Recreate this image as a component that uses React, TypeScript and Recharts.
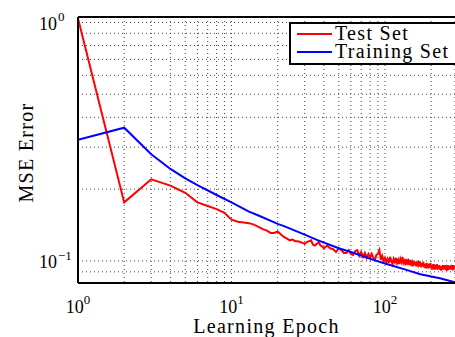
import React from 'react'
import { LineChart, Line, XAxis, YAxis, CartesianGrid, ReferenceLine } from 'recharts'

// training curve (smooth)
const trainEpoch = [1, 2, 3, 4, 5, 6, 8, 10, 13, 15, 20, 22, 30, 36, 50, 60, 84, 100, 138, 170, 228, 286]
const trainMse = [
  0.322, 0.362, 0.28, 0.243, 0.222, 0.208, 0.189, 0.176, 0.161, 0.155, 0.143, 0.14, 0.129, 0.1225,
  0.113, 0.109, 0.101, 0.0975, 0.0917, 0.088, 0.0846, 0.0814,
]

// test curve (noisy after ~30 epochs)
const testEpoch = [
  1, 2, 3, 4, 5, 6, 7, 8, 9, 10, 11, 12, 13, 14, 15, 16, 17, 18, 19, 20, 21, 22, 23, 24, 25, 26, 27,
  28, 29, 30, 31, 32, 33, 34, 35, 36, 37, 38, 39, 40, 42, 44, 46, 48, 50, 52, 54, 56, 58, 60, 62, 64,
  66, 68, 70, 72, 74, 76, 78, 80, 82, 84, 86, 88, 90, 92, 94, 96, 98, 100, 102, 104, 106, 108, 110,
  112, 114, 116, 118, 120, 122, 124, 126, 128, 130, 132, 134, 136, 138, 140, 142, 144, 146, 148, 150,
  152, 154, 156, 158, 160, 162, 164, 166, 168, 170, 172, 174, 176, 178, 180, 182, 184, 186, 188, 190,
  192, 194, 196, 198, 200, 202, 204, 206, 208, 210, 212, 214, 216, 218, 220, 222, 224, 226, 228, 230,
  232, 234, 236, 238, 240, 242, 244, 246, 248, 250, 252, 254, 256, 258, 260, 262, 264, 266, 268, 270,
  272, 274, 276, 278, 280, 282, 284, 286,
]
const testMse = [
  1.04, 0.176, 0.22, 0.207, 0.193, 0.176, 0.17, 0.165, 0.159, 0.149, 0.146, 0.145, 0.144, 0.142,
  0.139, 0.136, 0.134, 0.131, 0.131, 0.133, 0.129, 0.126, 0.124, 0.122, 0.123, 0.121, 0.121, 0.12,
  0.119, 0.118, 0.12, 0.121, 0.122, 0.117, 0.116, 0.118, 0.12, 0.116, 0.115, 0.113, 0.116, 0.113,
  0.112, 0.109, 0.113, 0.111, 0.108, 0.108, 0.111, 0.107, 0.106, 0.11, 0.111, 0.105, 0.109, 0.104,
  0.108, 0.103, 0.107, 0.103, 0.107, 0.103, 0.101, 0.106, 0.107, 0.111, 0.101, 0.105, 0.1, 0.103,
  0.099, 0.102, 0.098, 0.104, 0.1, 0.097, 0.102, 0.099, 0.103, 0.098, 0.101, 0.097, 0.102, 0.099,
  0.104, 0.098, 0.1, 0.096, 0.102, 0.098, 0.1, 0.096, 0.101, 0.097, 0.099, 0.095, 0.1, 0.096, 0.099,
  0.095, 0.098, 0.096, 0.1, 0.095, 0.097, 0.094, 0.098, 0.095, 0.099, 0.094, 0.097, 0.093, 0.098,
  0.095, 0.096, 0.093, 0.097, 0.094, 0.098, 0.093, 0.096, 0.092, 0.097, 0.094, 0.095, 0.092, 0.096,
  0.093, 0.097, 0.092, 0.095, 0.093, 0.096, 0.092, 0.094, 0.091, 0.095, 0.093, 0.096, 0.092, 0.094,
  0.092, 0.096, 0.093, 0.095, 0.091, 0.094, 0.093, 0.096, 0.092, 0.094, 0.092, 0.095, 0.093, 0.096,
  0.092, 0.094, 0.093, 0.096, 0.092, 0.095, 0.093, 0.095,
]

const xTicks = [1, 2, 3, 4, 5, 6, 7, 8, 9, 10, 20, 30, 40, 50, 60, 70, 80, 90, 100, 200]
const xLabelTicks = [1, 10, 100]
const yTicks = [0.09, 0.1, 0.2, 0.3, 0.4, 0.5, 0.6, 0.7, 0.8, 0.9, 1]
const yLabelTicks = [0.1, 1]

const xDomain = [1, 286]
const yDomain = [0.0808, 1.054]

const series = [
  { name: 'Test Set', color: '#ff0000', data: testEpoch.map((e, i) => ({ epoch: e, mse: testMse[i] })) },
  { name: 'Training Set', color: '#0000ff', data: trainEpoch.map((e, i) => ({ epoch: e, mse: trainMse[i] })) },
]

const FONT = '"Liberation Serif", "Times New Roman", serif'

const XTick = (props: any) => {
  const { x, y, payload } = props
  const idx = xLabelTicks.indexOf(payload.value)
  if (idx < 0) return null
  return (
    <text x={x} y={y + 22} textAnchor="middle" fontFamily={FONT} fontSize={18} fill="#000">
      <tspan>10</tspan>
      <tspan dy={-9} fontSize={13}>{idx}</tspan>
    </text>
  )
}

const YTick = (props: any) => {
  const { y, payload } = props
  const idx = yLabelTicks.indexOf(payload.value)
  if (idx < 0) return null
  const exp = idx === 0 ? '\u22121' : '0'
  return (
    <g fontFamily={FONT} fill="#000">
      <text x={57} y={y + 7.5} textAnchor="end" fontSize={18}>10</text>
      <text x={58} y={y - 1} textAnchor="start" fontSize={13}>{exp}</text>
    </g>
  )
}

export default function App() {
  return (
    <div
      style={{
        position: 'absolute',
        left: 0,
        top: 0,
        width: 455,
        height: 337,
        overflow: 'hidden',
        background: '#fff',
      }}
    >
      <LineChart width={455} height={337} margin={{ top: 17, right: 0, bottom: 0, left: 0 }}>
        <CartesianGrid strokeDasharray="1 3" stroke="#444" />
        <XAxis
          dataKey="epoch"
          type="number"
          scale="log"
          domain={xDomain}
          allowDataOverflow
          ticks={xTicks}
          interval={0}
          tick={<XTick />}
          tickLine={false}
          axisLine={{ stroke: '#000', strokeWidth: 2 }}
          height={54}
          label={{
            content: (p: any) => (
              <text
                x={p.viewBox.x + p.viewBox.width / 2}
                y={p.viewBox.y + 50}
                textAnchor="middle"
                fontFamily={FONT}
                fontSize={20}
                letterSpacing={1.3}
                fill="#000"
              >
                Learning Epoch
              </text>
            ),
          }}
        />
        <YAxis
          dataKey="mse"
          type="number"
          scale="log"
          domain={yDomain}
          allowDataOverflow
          ticks={yTicks}
          interval={0}
          tick={<YTick />}
          tickLine={false}
          axisLine={{ stroke: '#000', strokeWidth: 2 }}
          width={78}
          label={{
            content: () => (
              <text
                x={33}
                y={152.5}
                transform="rotate(-90 33 152.5)"
                textAnchor="middle"
                fontFamily={FONT}
                fontSize={20}
                letterSpacing={1.3}
                fill="#000"
              >
                MSE Error
              </text>
            ),
          }}
        />
        <ReferenceLine y={yDomain[1]} stroke="#000" strokeWidth={2} />
        {series.map((s) => (
          <Line
            key={s.name}
            data={s.data}
            dataKey="mse"
            name={s.name}
            type="linear"
            stroke={s.color}
            strokeWidth={2}
            dot={false}
            isAnimationActive={false}
          />
        ))}
      </LineChart>

      {/* legend box, cut off at the right edge like the source figure */}
      <div
        style={{
          position: 'absolute',
          left: 289,
          top: 22,
          width: 175,
          height: 39,
          border: '2px solid #000',
          background: '#fff',
          fontFamily: FONT,
          fontSize: 20,
          letterSpacing: 1.3,
        }}
      >
        {series.map((s, i) => (
          <div
            key={s.name}
            style={{ position: 'absolute', left: 0, top: i === 0 ? 0 : 18, height: 20, whiteSpace: 'nowrap' }}
          >
            <div
              style={{
                position: 'absolute',
                left: 6,
                top: i === 0 ? 8.5 : 9,
                width: 35,
                height: 2,
                background: s.color,
              }}
            />
            <span style={{ position: 'absolute', left: 44, top: -3, lineHeight: '24px' }}>{s.name}</span>
          </div>
        ))}
      </div>
    </div>
  )
}
